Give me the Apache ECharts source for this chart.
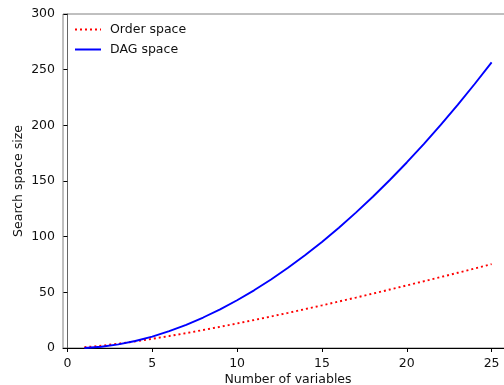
<!DOCTYPE html>
<html>
<head>
<meta charset="utf-8">
<script src="https://cdn.jsdelivr.net/npm/echarts@6/dist/echarts.min.js"></script>
<style>
html,body{margin:0;padding:0;background:#fff;}
#chart{width:504px;height:385px;}
</style>
</head>
<body>
<div id="chart"></div>
<script>
// Number of variables
const nVars = [1,2,3,4,5,6,7,8,9,10,11,12,13,14,15,16,17,18,19,20,21,22,23,24,25];
// Order space (log size)
const orderSpace = [0.69,2.08,3.87,5.95,8.25,10.74,13.38,16.15,19.04,22.04,25.13,28.30,31.56,34.90,38.30,41.76,45.29,48.87,52.51,56.20,59.94,63.72,67.55,71.42,75.33];
// DAG space (log size)
const dagSpace = [0,1.10,3.22,6.30,10.28,15.15,20.85,27.39,34.73,42.88,51.81,61.52,72.01,83.26,95.27,108.04,121.57,135.85,150.87,166.64,183.15,200.40,218.39,237.11,256.57];
const xTicks = [0,5,10,15,20,25];
const yTicks = [0,50,100,150,200,250,300];

const font = 'DejaVu Sans';
const chart = echarts.init(document.getElementById('chart'), null, {renderer:'canvas'});
chart.setOption({
  animation:false,
  backgroundColor:'#fff',
  textStyle:{fontFamily:font},
  grid:{left:63,top:14,width:450,height:334,outerBoundsMode:'none',containLabel:false,
        show:true,borderColor:'#808080',borderWidth:1,backgroundColor:'transparent'},
  legend:{
    orient:'vertical', left:69, top:18, itemWidth:26, itemHeight:12, itemGap:7,
    itemStyle:{opacity:0},
    textStyle:{fontFamily:font,fontSize:12.5,color:'#111',padding:[0,0,0,4]},
    data:['Order space','DAG space']
  },
  xAxis:{
    type:'value', min:-0.26, max:26.26,
    name:'Number of variables', nameLocation:'middle', nameGap:25, nameMoveOverlap:false,
    nameTextStyle:{fontFamily:font,fontSize:12.5,color:'#111'},
    axisLine:{show:true,onZero:false,lineStyle:{color:'#000',width:1}},
    axisTick:{show:true,length:4,lineStyle:{color:'#000'},customValues:xTicks},
    axisLabel:{fontFamily:font,fontSize:12.5,color:'#111',margin:9,customValues:xTicks},
    splitLine:{show:false}
  },
  yAxis:{
    type:'value', min:0, max:300, interval:50,
    name:'Search space size', nameLocation:'middle', nameGap:38, nameMoveOverlap:false,
    nameTextStyle:{fontFamily:font,fontSize:12.5,color:'#111'},
    axisLine:{show:true,lineStyle:{color:'#666',width:1}},
    axisTick:{show:true,length:4,lineStyle:{color:'#000'}},
    axisLabel:{fontFamily:font,fontSize:12.5,color:'#111',margin:8,customValues:yTicks},
    splitLine:{show:false}
  },
  series:[
    {name:'Order space',type:'line',symbol:'none',smooth:false,
     data:nVars.map((x,i)=>[x,orderSpace[i]]),
     lineStyle:{color:'#ff0000',width:1.9,type:[2,3]},itemStyle:{color:'#ff0000'}},
    {name:'DAG space',type:'line',symbol:'none',smooth:false,
     data:nVars.map((x,i)=>[x,dagSpace[i]]),
     lineStyle:{color:'#0000ff',width:1.9},itemStyle:{color:'#0000ff'}}
  ]
});
</script>
</body>
</html>
